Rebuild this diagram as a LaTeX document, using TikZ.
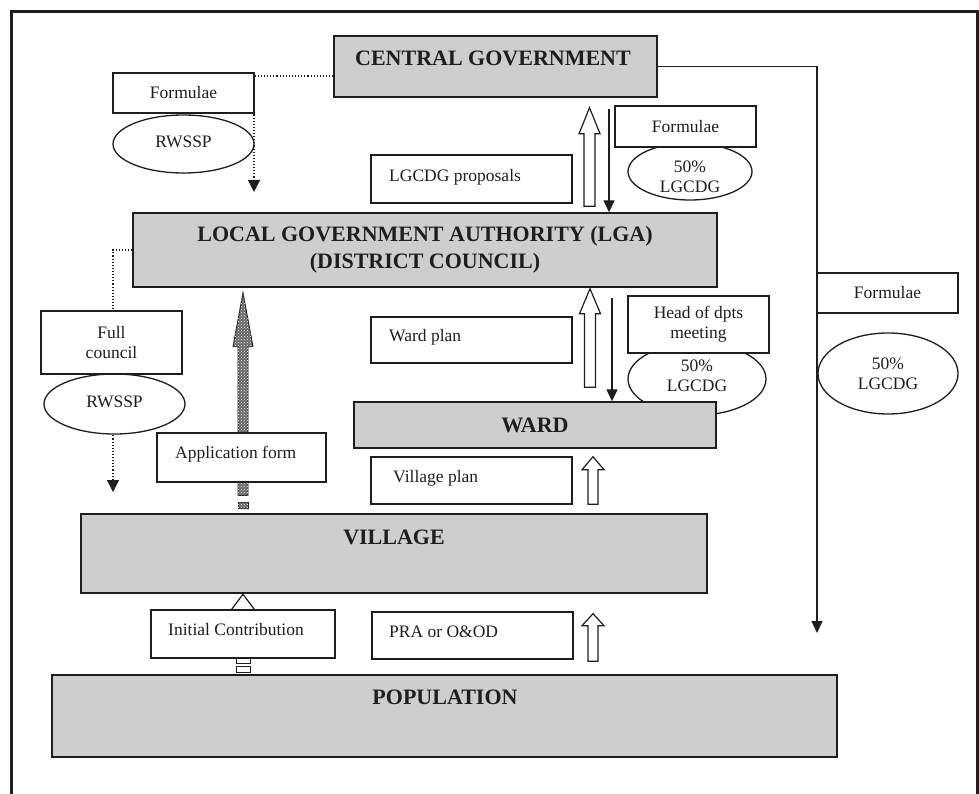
\documentclass[tikz,border=0pt]{standalone}
\usepackage{fontspec}
\setmainfont{Liberation Serif}
\usetikzlibrary{arrows.meta,calc,patterns,shapes.geometric}
\definecolor{boxgrey}{RGB}{205,206,205}
\definecolor{ink}{RGB}{30,30,30}
% block arrow pointing up: #1 style, #2 bottom coord, #3 tip coord, #4 head length, #5 head half width, #6 shaft half width
\newcommand\blockup[6][harrow]{%
  \draw[#1] ($(#2)+(-#6,0)$) -- ($(#3)+(-#6,#4)$) -- ($(#3)+(-#5,#4)$) -- (#3)
    -- ($(#3)+(#5,#4)$) -- ($(#3)+(#6,#4)$) -- ($(#2)+(#6,0)$) -- cycle;}
\begin{document}
\begin{tikzpicture}[x=1pt,y=-1pt,
  gbox/.style={draw=ink, line width=1.4pt, fill=boxgrey, inner sep=0pt},
  wbox/.style={draw=ink, line width=1.3pt, fill=white, inner sep=0pt},
  oval/.style={draw=ink, line width=1.3pt, fill=white, ellipse, inner sep=0pt},
  btxt/.style={font=\fontsize{22}{27}\selectfont\bfseries, text=ink, align=center},
  ntxt/.style={font=\fontsize{17.5}{20}\selectfont, text=ink, align=center},
  ltxt/.style={font=\fontsize{17.5}{20}\selectfont, text=ink, anchor=west, inner sep=0pt},
  harrow/.style={draw=ink, line width=1.2pt, fill=white, line join=miter},
  chk/.style={draw=ink, line width=0.9pt, fill=black!60, postaction={pattern=crosshatch dots, pattern color=white}},
  arr/.style={draw=ink, line width=1.3pt, -{Triangle[width=11pt,length=12pt]}},
  darr/.style={draw=ink, line width=1.1pt, dotted, -{Triangle[width=12pt,length=12pt]}}]
\useasboundingbox (0,0) rectangle (979,794);
% frame
\draw[ink, line width=3pt] (11.5,794) -- (11.5,11.5) -- (977,11.5) -- (977,794);

% column helpers
\coordinate (xa) at (589.5,0);
\coordinate (xb) at (609,0);
\coordinate (xc) at (243,0);
\coordinate (xd) at (590,0);
\coordinate (xe) at (612,0);
\coordinate (xf) at (593,0);

% main level boxes
\node[gbox, minimum width=323, minimum height=61] (cg) at (495.5,66.5) {};
\node[btxt] (cgt) at (493,58) {CENTRAL GOVERNMENT};

% free ends of connectors
\coordinate (dl1) at (254,192);
\coordinate (dl2) at (113,492);
\coordinate (rc) at (817,633);

% dotted connectors and right-hand connector (drawn under boxes)
\draw[darr] ([yshift=-9.5pt]cg.west) -| (dl1);
\draw[arr] (cg.east) -| (rc);

% ellipses (drawn before boxes that overlap them)
\node[oval, minimum width=141, minimum height=58] (rw1) at (183.5,144) {};
\node[ntxt] (rw1t) at (183.5,142) {RWSSP};
\node[oval, minimum width=124, minimum height=57] (lg1) at (690,171.5) {};
\node[ntxt] (lg1t) at (690,177) {50\%\\LGCDG};
\node[oval, minimum width=140, minimum height=81] (lg3) at (888,373.5) {};
\node[ntxt] (lg3t) at (888,374) {50\%\\LGCDG};

% side boxes top
\node[wbox, minimum width=141, minimum height=40] (fo1) at (183.5,93) {};
\node[ntxt] (fo1t) at (183.5,93) {Formulae};
\node[wbox, minimum width=141, minimum height=41] (fo2) at (685.5,126.5) {};
\node[ntxt] (fo2t) at (685.5,126.5) {Formulae};
\node[wbox, minimum width=141, minimum height=40] (fo3) at (887.5,293) {};
\node[ntxt] (fo3t) at (887.5,293) {Formulae};
\node[wbox, minimum width=201, minimum height=48] (lp) at (471.5,179) {};
\node[ltxt] (lpt) at (389,177) {LGCDG proposals};

% LGA
\node[gbox, btxt, minimum width=584, minimum height=74] (lga) at (425,250) {LOCAL GOVERNMENT AUTHORITY (LGA)\\(DISTRICT COUNCIL)};

% CG <-> LGA arrows
\coordinate (a1b) at ($(lga.north -| xa)+(0,-6)$);
\coordinate (a1t) at ($(cg.south -| xa)+(0,10)$);
\blockup{a1b}{a1t}{26}{10.5}{5.5}
\draw[arr] ($(cg.south -| xb)+(0,11)$) -- (lga.north -| xb);

% LGA dotted to full council
\draw[darr] (lga.west) -| (dl2);
\node[oval, minimum width=141, minimum height=60] (rw2) at (114.5,404) {};
\node[ntxt] (rw2t) at (114.5,402) {RWSSP};
\node[wbox, ntxt, minimum width=141, minimum height=63] (fc) at (111.5,342.5) {Full\\council};

% lower levels
\node[gbox, minimum width=626, minimum height=79] (village) at (394,553.5) {};
\node[btxt] (villaget) at (394,537) {VILLAGE};
\node[gbox, minimum width=785, minimum height=82] (pop) at (444.5,716) {};
\node[btxt] (popt) at (445,697) {POPULATION};

% checkered arrow village -> LGA
\coordinate (c1t) at ($(lga.south -| xc)+(0,5)$);
\coordinate (c1b) at ($(village.north -| xc)+(0,-18)$);
\blockup[chk]{c1b}{c1t}{54}{10}{5}
\draw[chk] ($(village.north -| xc)+(-5,-11)$) rectangle ($(village.north -| xc)+(5,-5)$);
\node[wbox, minimum width=169, minimum height=49] (af) at (241.5,457.5) {};
\node[ltxt] (aft) at (175,454) {Application form};

% Ward
\node[oval, minimum width=138, minimum height=72] (lg2) at (697,379) {};
\node[ntxt] (lg2t) at (697,376) {50\%\\LGCDG};
\node[wbox, ntxt, minimum width=141, minimum height=57] (hd) at (698.5,324.5) {Head of dpts\\meeting};
\node[gbox, btxt, minimum width=362, minimum height=46] (ward) at (535,425) {WARD};
\node[wbox, minimum width=201, minimum height=46] (wp) at (471.5,340) {};
\node[ltxt] (wpt) at (389,337) {Ward plan};

% WARD <-> LGA arrows
\coordinate (a2b) at ($(ward.north -| xd)+(0,-14)$);
\coordinate (a2t) at ($(lga.south -| xd)+(0,1)$);
\blockup{a2b}{a2t}{25}{10.5}{5.5}
\draw[arr] ($(lga.south -| xe)+(0,10)$) -- (ward.north -| xe);

% Village plan
\node[wbox, minimum width=201, minimum height=47] (vp) at (471.5,480.5) {};
\node[ltxt] (vpt) at (393,478) {Village plan};
\coordinate (a3b) at ($(village.north -| xf)+(0,-9)$);
\coordinate (a3t) at ($(ward.south -| xf)+(0,8)$);
\blockup{a3b}{a3t}{13}{11}{5}

% Population -> Village
\coordinate (a4t) at ($(village.south -| xc)+(0,0.5)$);
\draw[harrow] ($(a4t)+(-12,16)$) -- (a4t) -- ($(a4t)+(12,16)$) -- cycle;
\node[wbox, minimum width=184, minimum height=48] (ic) at (243,634) {};
\node[ltxt] (ict) at (168,630) {Initial Contribution};
\draw[harrow, line width=1pt] ($(ic.south -| xc)+(-7,0)$) rectangle ($(ic.south -| xc)+(7,5)$);
\draw[harrow, line width=1pt] ($(pop.north -| xc)+(-7,-8)$) rectangle ($(pop.north -| xc)+(7,-2)$);

% PRA
\node[wbox, minimum width=201, minimum height=47] (pra) at (472.5,635.5) {};
\node[ltxt] (prat) at (389,632) {PRA or O\&OD};
\coordinate (a5b) at ($(pop.north -| xf)+(0,-13)$);
\coordinate (a5t) at ($(village.south -| xf)+(0,20)$);
\blockup{a5b}{a5t}{12}{11}{5}
\end{tikzpicture}
\end{document}
